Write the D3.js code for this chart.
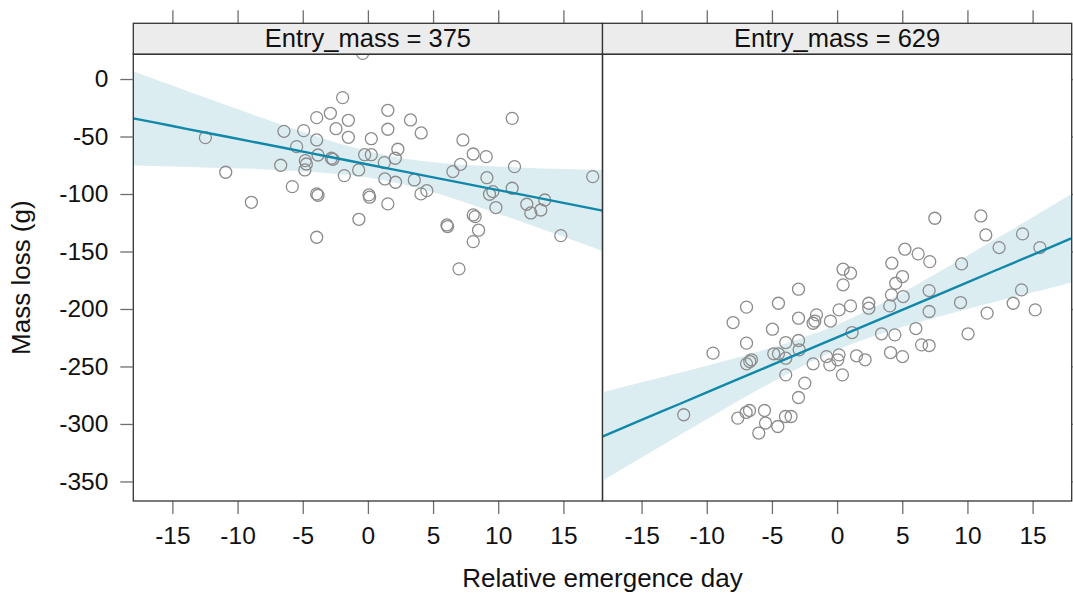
<!DOCTYPE html>
<html>
<head>
<meta charset="utf-8">
<script src="https://cdn.jsdelivr.net/npm/d3@7"></script>
<style>
  html, body { margin: 0; padding: 0; background: #fff; }
  svg { display: block; font-family: "Liberation Sans", Arial, sans-serif; }
</style>
</head>
<body>
<svg id="chart" width="1073" height="594"></svg>
<script>
// Panel labels
const panels = ["Entry_mass = 375", "Entry_mass = 629"];

// Observations: relative emergence day vs mass loss, per entry mass
const leftX = [-12.47,-10.91,-8.94,-6.69,-6.44,-5.80,-5.47,-4.93,-4.80,-4.72,-4.84,-3.93,-3.93,-3.83,-3.93,-3.83,-3.93,-2.88,-2.45,-2.80,-2.68,-1.94,-1.50,-1.50,-1.81,-0.71,-0.69,-0.40,-0.25,0.26,0.26,0.08,0.13,1.26,1.30,1.53,1.53,1.53,2.12,2.10,2.30,3.27,3.56,4.09,4.07,4.52,6.06,6.11,6.52,7.11,7.29,8.08,8.08,8.23,8.49,8.08,9.08,9.13,9.33,9.59,9.82,11.07,11.25,11.07,12.19,12.50,13.27,13.57,14.80,17.25,6.99];
const leftY = [-51.0,-81.1,-107.2,-75.0,-45.5,-93.6,-58.8,-44.9,-71.0,-73.9,-79.1,-33.6,-53.0,-66.1,-99.9,-101.1,-137.6,-29.8,-43.2,-68.9,-69.8,-16.2,-35.9,-50.7,-84.0,-79.1,-122.0,22.3,-65.8,-65.8,-51.9,-100.8,-102.8,-72.7,-86.9,-27.2,-43.7,-108.6,-89.8,-68.9,-61.1,-35.6,-87.8,-46.9,-99.9,-97.1,-126.9,-128.3,-80.5,-74.2,-53.0,-65.2,-118.2,-119.7,-131.5,-141.4,-67.5,-85.8,-100.2,-97.9,-111.8,-34.2,-76.2,-95.0,-108.9,-116.5,-113.9,-105.2,-136.2,-84.9,-165.1];

const rightX = [-11.77,-9.52,-7.98,-7.62,-6.95,-6.95,-6.95,-6.70,-6.57,-6.98,-6.72,-6.01,-5.57,-5.49,-4.96,-4.50,-4.86,-4.50,-4.55,-3.94,-3.94,-3.94,-3.96,-3.53,-2.96,-2.96,-2.96,-2.91,-2.96,-2.48,-1.84,-1.58,-1.71,-1.84,-0.81,-0.56,-0.51,0.15,0.15,0.05,0.41,0.46,1.03,0.46,1.03,1.15,1.49,2.15,2.43,2.43,3.41,4.10,4.04,4.20,4.17,4.50,4.43,5.02,5.07,5.02,5.20,6.22,7.11,7.06,7.06,6.04,6.48,7.06,7.50,9.55,9.47,10.05,11.03,11.41,11.51,12.43,13.51,14.15,14.23,15.20,15.56];
const rightY = [-292.0,-238.4,-211.8,-294.9,-198.4,-229.7,-247.7,-245.7,-244.2,-290.0,-288.3,-307.9,-288.3,-299.2,-217.6,-195.0,-239.0,-239.0,-302.2,-229.2,-242.8,-257.3,-293.5,-293.5,-182.8,-208.0,-227.4,-235.5,-277.0,-264.5,-212.4,-205.1,-210.5,-247.7,-241.4,-248.6,-210.5,-200.8,-239.9,-244.2,-257.3,-165.4,-168.9,-179.0,-197.3,-220.5,-240.7,-244.2,-195.0,-199.3,-221.6,-237.9,-197.3,-160.2,-187.7,-177.6,-222.5,-171.8,-189.2,-241.4,-148.0,-152.1,-158.8,-184.0,-202.2,-217.0,-231.2,-231.8,-121.1,-160.8,-194.4,-221.6,-119.1,-135.6,-203.6,-146.6,-195.0,-183.4,-134.7,-200.8,-146.6];

// Fitted effect with 95% confidence band, evaluated on a grid of days
const fitX = [-18,-15,-12,-9,-6,-3,0,3,6,9,12,15,18];
const leftFit   = [-34.2,-40.9,-47.6,-54.2,-60.9,-67.6,-74.3,-81.0,-87.7,-94.4,-101.0,-107.7,-114.4];
const leftLower = [-75.2,-76.1,-77.1,-78.1,-79.7,-81.9,-85.7,-92.4,-102.0,-113.2,-124.9,-137.2,-149.6];
const leftUpper = [6.8,-5.7,-18.1,-30.3,-42.1,-53.3,-62.9,-69.6,-73.4,-75.6,-77.1,-78.2,-79.2];
const rightFit   = [-310.9,-296.5,-282.2,-267.8,-253.4,-239.1,-224.7,-210.3,-196.0,-181.6,-167.2,-152.9,-138.5];
const rightLower = [-349.4,-329.2,-309.1,-289.3,-269.9,-251.7,-235.7,-222.9,-212.5,-203.1,-194.1,-185.6,-177.0];
const rightUpper = [-272.4,-263.8,-255.3,-246.3,-236.9,-226.5,-213.7,-197.7,-179.5,-160.1,-140.3,-120.2,-100.0];

// Axis ticks and titles
const xTicks = [-15,-10,-5,0,5,10,15];
const yTicks = [0,-50,-100,-150,-200,-250,-300,-350];
const xTitle = "Relative emergence day";
const yTitle = "Mass loss (g)";

const svg = d3.select("#chart");
const TICK_FONT = 24.5, STRIP_FONT = 25.5, TITLE_FONT = 26;
const plotTop = 54.3, plotBottom = 501, stripTop = 23.3;
const panelEdges = [[133.3, 602.5], [602.5, 1071.7]];

const y = d3.scaleLinear().domain([-367, 21.5]).range([plotBottom, plotTop]);

const series = [
  { px: leftX, py: leftY, fit: leftFit, lo: leftLower, hi: leftUpper },
  { px: rightX, py: rightY, fit: rightFit, lo: rightLower, hi: rightUpper }
];

const tickColor = "#6e6e6e";
const frameColor = "#333";
const signed = d => d < 0 ? "-" + Math.abs(d) : String(d);

series.forEach((s, i) => {
  const [x0, x1] = panelEdges[i];
  const x = d3.scaleLinear().domain([-18, 18]).range([x0, x1]);

  const clipId = "clip" + i;
  svg.append("clipPath").attr("id", clipId)
    .append("rect").attr("x", x0).attr("y", plotTop).attr("width", x1 - x0).attr("height", plotBottom - plotTop);

  const g = svg.append("g").attr("clip-path", `url(#${clipId})`);

  // confidence band
  const band = d3.area()
    .x((d, k) => x(fitX[k]))
    .y0((d, k) => y(s.lo[k]))
    .y1((d, k) => y(s.hi[k]))
    .curve(d3.curveMonotoneX);
  g.append("path").datum(fitX).attr("d", band)
    .attr("fill", "#dcedf2").attr("stroke", "none");

  // observations
  g.selectAll("circle").data(s.px).join("circle")
    .attr("cx", d => x(d))
    .attr("cy", (d, k) => y(s.py[k]))
    .attr("r", 6)
    .attr("fill", "none")
    .attr("stroke", "#8c8c8c")
    .attr("stroke-width", 1.3);

  // fitted line
  const line = d3.line()
    .x((d, k) => x(fitX[k]))
    .y((d, k) => y(s.fit[k]))
    .curve(d3.curveMonotoneX);
  g.append("path").datum(fitX).attr("d", line)
    .attr("fill", "none").attr("stroke", "#1188aa").attr("stroke-width", 2.4);

  // bottom axis with labels
  const axB = svg.append("g").attr("transform", `translate(0,${plotBottom})`)
    .call(d3.axisBottom(x).tickValues(xTicks).tickSize(13).tickPadding(13).tickFormat(signed));
  // top axis, ticks only
  const axT = svg.append("g").attr("transform", `translate(0,${stripTop})`)
    .call(d3.axisTop(x).tickValues(xTicks).tickSize(13).tickFormat(""));
  [axB, axT].forEach(a => {
    a.select(".domain").remove();
    a.selectAll(".tick line").attr("stroke", tickColor).attr("stroke-width", 1.3);
    a.selectAll("text").attr("fill", "#111").style("font-size", TICK_FONT + "px")
      .style("font-family", "Liberation Sans, Arial, sans-serif");
  });

  // strip
  svg.append("rect").attr("x", x0).attr("y", stripTop).attr("width", x1 - x0).attr("height", plotTop - stripTop)
    .attr("fill", "#ececec").attr("stroke", frameColor).attr("stroke-width", 1.3);
  svg.append("text").attr("x", (x0 + x1) / 2).attr("y", plotTop - 7.8)
    .attr("text-anchor", "middle").attr("fill", "#111")
    .style("font-size", STRIP_FONT + "px").text(panels[i]);

  // panel frame
  svg.append("rect").attr("x", x0).attr("y", plotTop).attr("width", x1 - x0).attr("height", plotBottom - plotTop)
    .attr("fill", "none").attr("stroke", frameColor).attr("stroke-width", 1.3);
});

// left axis with labels
const axL = svg.append("g").attr("transform", `translate(${panelEdges[0][0]},0)`)
  .call(d3.axisLeft(y).tickValues(yTicks).tickSize(13).tickPadding(12).tickFormat(signed));
// right axis, ticks only
const axR = svg.append("g").attr("transform", `translate(${panelEdges[1][1]},0)`)
  .call(d3.axisRight(y).tickValues(yTicks).tickSize(13).tickFormat(""));
[axL, axR].forEach(a => {
  a.select(".domain").remove();
  a.selectAll(".tick line").attr("stroke", tickColor).attr("stroke-width", 1.3);
  a.selectAll("text").attr("fill", "#111").style("font-size", TICK_FONT + "px")
    .style("font-family", "Liberation Sans, Arial, sans-serif");
});

// axis titles
svg.append("text").attr("x", (panelEdges[0][0] + panelEdges[1][1]) / 2).attr("y", 587)
  .attr("text-anchor", "middle").attr("fill", "#111").style("font-size", TITLE_FONT + "px").text(xTitle);
svg.append("text")
  .attr("transform", `translate(30,${(plotTop + plotBottom) / 2}) rotate(-90)`)
  .attr("text-anchor", "middle").attr("fill", "#111").style("font-size", TITLE_FONT + "px").text(yTitle);
</script>
</body>
</html>
